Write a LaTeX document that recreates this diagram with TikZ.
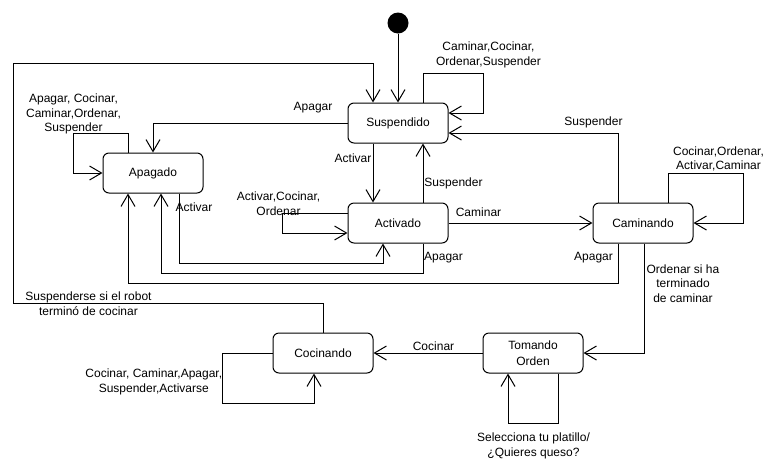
\documentclass[tikz,border=0pt]{standalone}
\usepackage{fontspec}
\setmainfont{Liberation Sans}
\usetikzlibrary{arrows.meta}
\begin{document}
\begin{tikzpicture}[x=1pt,y=-1pt,
  state/.style={draw,rounded corners=6pt,line width=1pt,minimum width=100pt,minimum height=40pt,inner sep=0pt,align=center,font=\fontsize{12}{15.5}\selectfont},
  lbl/.style={align=center,inner sep=0pt,font=\fontsize{12}{14.6}\selectfont},
  arr/.style={line width=1pt,-{Straight Barb[length=12pt,width=14pt,line width=1pt]}},
  ln/.style={line width=1pt}]
\useasboundingbox (0,0) rectangle (774,467);
% nodes
\node[circle,fill=black,minimum size=21pt,inner sep=0pt] (init) at (398,23) {};
\node[state] (susp) at (398,123) {Suspendido};
\node[state] (apag) at (153,173) {Apagado};
\node[state] (act) at (398,223) {Activado};
\node[state] (cam) at (643,223) {Caminando};
\node[state] (coc) at (323,353) {Cocinando};
\node[state] (tom) at (533,353) {Tomando\\Orden};
% connectors
\draw[arr] (init) -- (susp);
\draw[arr] (coc.north) |- (13,303) -- (13,63) -| ([xshift=-25pt]susp.north);
\draw[arr] (susp.west) -| (apag.north);
\draw[arr] ([xshift=-25pt]apag.north) |- (73,133) |- (apag.west);
\draw[arr] ([xshift=-25pt]susp.south) -- ([xshift=-25pt]act.north);
\draw[arr] ([xshift=25pt]act.north) -- ([xshift=25pt]susp.south);
\draw[arr] ([xshift=25pt]susp.north) |- (483,73) |- ([yshift=10pt]susp.east);
\draw[arr] ([xshift=-25pt]cam.north) |- ([yshift=-10pt]susp.east);
\draw[arr] (act.east) -- (cam.west);
\draw[arr] ([xshift=25pt]cam.north) |- (743,173) |- (cam.east);
\draw[arr] ([xshift=-25pt]cam.south) -- ++(0,40) -| ([xshift=-25pt]apag.south);
\draw[arr] ([xshift=25pt]act.south) -- ++(0,30) -| ([xshift=8pt]apag.south);
\draw[arr] ([xshift=26pt]apag.south) -- ++(0,70) -| ([xshift=-15pt]act.south);
\draw[arr] ([yshift=10pt]act.west) -- ++(-65,0) |- ([yshift=-10pt]act.west);
\draw[arr] ([xshift=1pt]cam.south) |- (tom.east);
\draw[arr] (tom.west) -- (coc.east);
\draw[arr] ([xshift=25pt]tom.south) -- ++(0,50) -| ([xshift=-25pt]tom.south);
\draw[arr] (coc.west) -- ++(-50,0) -- ++(0,50) -| ([xshift=-9pt]coc.south);
% labels
\node[lbl] (l1) at (88.5,303.5) {Suspenderse si el robot\\terminó de cocinar};
\node[lbl] (l2) at (313,108) {Apagar};
\node[lbl] (l3) at (73.5,114) {Apagar, Cocinar,\\Caminar,Ordenar,\\Suspender};
\node[lbl] (l4) at (353,158) {Activar};
\node[lbl] (l5) at (453.5,183) {Suspender};
\node[lbl] (l6) at (488.5,55) {Caminar,Cocinar,\\Ordenar,Suspender};
\node[lbl] (l7) at (593.5,122.5) {Suspender};
\node[lbl] (l8) at (478.5,212.5) {Caminar};
\node[lbl] (l9) at (718.5,159) {Cocinar,Ordenar,\\Activar,Caminar};
\node[lbl] (l10) at (593.5,258) {Apagar};
\node[lbl] (l11) at (443.5,258) {Apagar};
\node[lbl] (l12) at (194,207.5) {Activar};
\node[lbl] (l13) at (278.5,204) {Activar,Cocinar,\\Ordenar};
\node[lbl] (l14) at (683,283.5) {Ordenar si ha\\terminado\\de caminar};
\node[lbl] (l15) at (433.5,346) {Cocinar};
\node[lbl] (l16) at (533.5,446) {Selecciona tu platillo/\\¿Quieres queso?};
\node[lbl] (l17) at (153.8,382) {Cocinar, Caminar,Apagar,\\Suspender,Activarse};
\end{tikzpicture}
\end{document}
